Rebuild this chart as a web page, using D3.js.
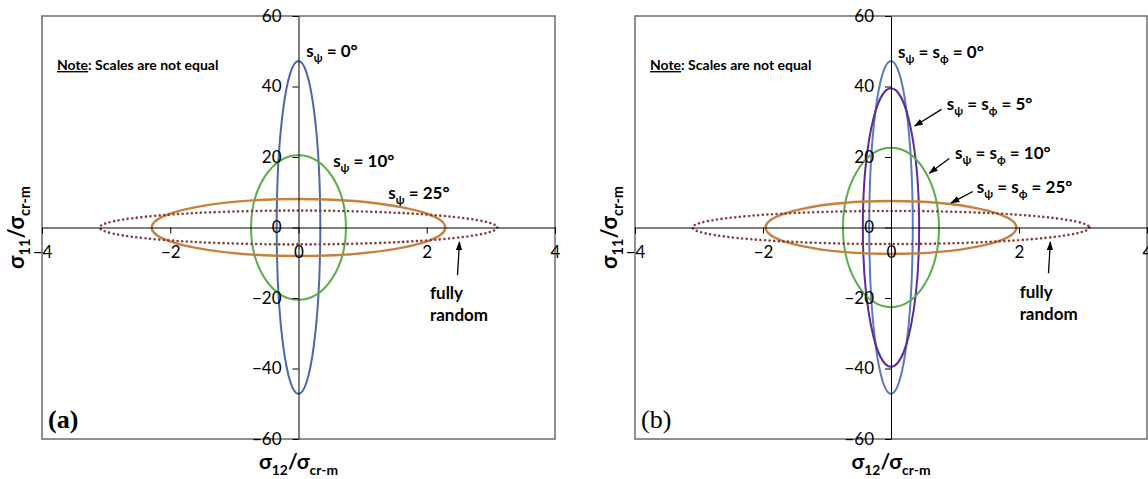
<!DOCTYPE html>
<html>
<head>
<meta charset="utf-8">
<script src="https://cdn.jsdelivr.net/npm/d3@7"></script>
<style>
  body { margin: 0; background: #fff; }
  svg { display: block; }
</style>
</head>
<body>
<svg width="1148" height="479"></svg>
<script>
// ---- data ----
var xTicks = [-4, -2, 0, 2, 4]
var yTicks = [-60, -40, -20, 0, 20, 40, 60]

// panel (a): s_psi only
var seriesA = ["0°", "10°", "25°", "fully random"]
var halfWidthA = [0.34, 0.74, 2.29, 3.1]    // sigma12 / sigma_cr-m
var halfHeightA = [47.2, 20.5, 8.1, 4.8]    // sigma11 / sigma_cr-m

// panel (b): s_psi = s_phi
var seriesB = ["0°", "5°", "10°", "25°", "fully random"]
var halfWidthB = [0.34, 0.44, 0.75, 1.96, 3.1]
var halfHeightB = [47.2, 39.5, 22.6, 7.5, 4.7]

// ---- styles ----
var colorsA = ["#4a69ad", "#5aad48", "#c8813c", "#8b3a3a"]
var colorsB = ["#5a7cbc", "#5b2c9e", "#5aad48", "#c8813c", "#8b3a3a"]
var font = "Lato, 'Open Sans', sans-serif"

var svg = d3.select("svg")

// arrow head
svg.append("defs").append("marker")
  .attr("id", "arrow")
  .attr("viewBox", "0 0 10 10")
  .attr("refX", 9).attr("refY", 5)
  .attr("markerWidth", 7).attr("markerHeight", 7)
  .attr("orient", "auto-start-reverse")
  .append("path")
  .attr("d", "M0,1.5 L10,5 L0,8.5 z")
  .attr("fill", "#000")

// writes text parts, some of them as subscripts
function richText(text, parts, fs) {
  var shift = 0
  parts.forEach(function (p) {
    var target = p.sub ? fs * 0.28 : 0
    var t = text.append("tspan").text(p.t).attr("dy", target - shift)
    if (p.sub) t.attr("font-size", fs * 0.66)
    shift = target
  })
}

function drawPanel(opt) {
  var x = d3.scaleLinear().domain([-4, 4]).range([opt.left, opt.right])
  var y = d3.scaleLinear().domain([-60, 60]).range([439, 16])
  var g = svg.append("g")

  // frame
  g.append("rect")
    .attr("x", opt.left).attr("y", 16)
    .attr("width", opt.right - opt.left).attr("height", 423)
    .attr("fill", "none").attr("stroke", "#6b6b6b").attr("stroke-width", 1.5)

  // envelopes
  g.selectAll("ellipse")
    .data(opt.series)
    .enter().append("ellipse")
    .attr("cx", x(0))
    .attr("cy", y(0))
    .attr("rx", function (d, i) { return x(opt.halfWidth[i]) - x(0) })
    .attr("ry", function (d, i) { return y(0) - y(opt.halfHeight[i]) })
    .attr("fill", "none")
    .attr("stroke", function (d, i) { return opt.colors[i] })
    .attr("stroke-width", function (d) { return d === "fully random" ? 2.6 : (d === "25°" ? 2.4 : 2) })
    .attr("stroke-dasharray", function (d) { return d === "fully random" ? "0 4.6" : null })
    .attr("stroke-linecap", function (d) { return d === "fully random" ? "round" : null })

  // axes crossing at zero
  var yAxis = g.append("g")
    .attr("transform", "translate(" + x(0) + ",0)")
    .call(d3.axisLeft(y).tickValues(yTicks).tickSize(6).tickSizeOuter(0).tickPadding(11))
  var xAxis = g.append("g")
    .attr("transform", "translate(0," + y(0) + ")")
    .call(d3.axisBottom(x).tickValues(xTicks).tickSize(6).tickSizeOuter(0).tickPadding(12))
  ;[xAxis, yAxis].forEach(function (a) {
    a.selectAll("path, line").attr("stroke", "#000").attr("stroke-width", 1)
    a.selectAll("text").attr("font-family", font).attr("font-size", 17).attr("fill", "#000")
  })

  // note
  var note = g.append("text")
    .attr("x", opt.left + 15).attr("y", 70)
    .attr("font-family", font).attr("font-size", 14).attr("font-weight", "bold")
  note.append("tspan").text("Note").attr("text-decoration", "underline")
  note.append("tspan").text(": Scales are not equal")

  // curve labels
  opt.labels.forEach(function (l) {
    var t = g.append("text")
      .attr("x", x(l.at[0])).attr("y", y(l.at[1]))
      .attr("font-family", font).attr("font-size", 17).attr("font-weight", "bold")
    richText(t, l.parts, 17)
    if (l.arrow) {
      g.append("line")
        .attr("x1", x(l.arrow[0])).attr("y1", y(l.arrow[1]))
        .attr("x2", x(l.arrow[2])).attr("y2", y(l.arrow[3]))
        .attr("stroke", "#000").attr("stroke-width", 1.3)
        .attr("marker-end", "url(#arrow)")
    }
  })

  // fully random
  var fr = g.append("text")
    .attr("font-family", font).attr("font-size", 17).attr("font-weight", "bold")
  fr.append("tspan").attr("x", x(opt.random[0])).attr("y", y(opt.random[1])).text("fully")
  fr.append("tspan").attr("x", x(opt.random[0])).attr("y", y(opt.random[1]) + 22).text("random")
  g.append("line")
    .attr("x1", x(opt.randomArrow[0])).attr("y1", y(opt.randomArrow[1]))
    .attr("x2", x(opt.randomArrow[2])).attr("y2", y(opt.randomArrow[3]))
    .attr("stroke", "#000").attr("stroke-width", 1.3)
    .attr("marker-end", "url(#arrow)")

  // panel tag
  g.append("text")
    .attr("x", opt.left + 6).attr("y", 428)
    .attr("font-family", "'Liberation Serif', 'Times New Roman', serif")
    .attr("font-size", 26)
    .attr("font-weight", opt.tagBold ? "bold" : "normal")
    .text(opt.tag)

  // axis titles
  var xt = g.append("text")
    .attr("x", x(0)).attr("y", 469)
    .attr("text-anchor", "middle")
    .attr("font-family", font).attr("font-size", 21).attr("font-weight", "bold")
  richText(xt, [{ t: "σ" }, { t: "12", sub: true }, { t: "/σ" }, { t: "cr-m", sub: true }], 21)

  var yt = g.append("text")
    .attr("transform", "translate(" + (opt.left - 18) + "," + y(0) + ") rotate(-90)")
    .attr("text-anchor", "middle")
    .attr("font-family", font).attr("font-size", 22).attr("font-weight", "bold")
  richText(yt, [{ t: "σ" }, { t: "11", sub: true }, { t: "/σ" }, { t: "cr-m", sub: true }], 22)
}

var psi = { t: "ψ", sub: true }
var phi = { t: "ϕ", sub: true }

drawPanel({
  left: 42, right: 555,
  series: seriesA, halfWidth: halfWidthA, halfHeight: halfHeightA, colors: colorsA,
  tag: "(a)", tagBold: true,
  labels: [
    { at: [0.12, 48.4], parts: [{ t: "s" }, psi, { t: " = 0°" }] },
    { at: [0.54, 17.2], parts: [{ t: "s" }, psi, { t: " = 10°" }] },
    { at: [1.40, 8.1], parts: [{ t: "s" }, psi, { t: " = 25°" }] }
  ],
  random: [2.05, -20.3],
  randomArrow: [2.48, -13.5, 2.51, -4.1]
})

drawPanel({
  left: 635, right: 1147,
  series: seriesB, halfWidth: halfWidthB, halfHeight: halfHeightB, colors: colorsB,
  tag: "(b)", tagBold: false,
  labels: [
    { at: [0.11, 48.1], parts: [{ t: "s" }, psi, { t: " = s" }, phi, { t: " = 0°" }] },
    { at: [0.87, 33.3], parts: [{ t: "s" }, psi, { t: " = s" }, phi, { t: " = 5°" }],
      arrow: [0.79, 33.5, 0.37, 28.8] },
    { at: [1.0, 19.4], parts: [{ t: "s" }, psi, { t: " = s" }, phi, { t: " = 10°" }],
      arrow: [0.91, 19.6, 0.6, 15.4] },
    { at: [1.34, 9.8], parts: [{ t: "s" }, psi, { t: " = s" }, phi, { t: " = 25°" }],
      arrow: [1.28, 10.2, 0.94, 7.0] }
  ],
  random: [2.01, -20.1],
  randomArrow: [2.46, -13, 2.49, -4.1]
})
</script>
</body>
</html>
